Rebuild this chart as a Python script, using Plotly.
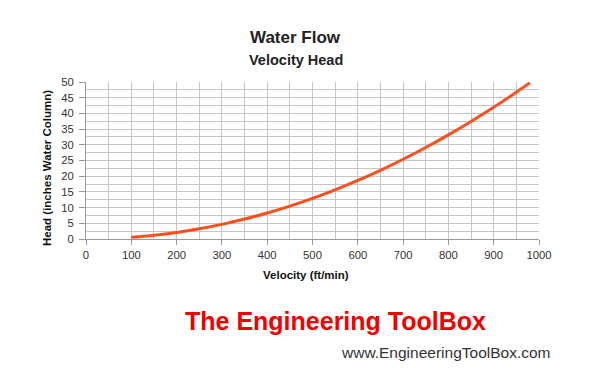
import plotly.graph_objects as go

# Data
velocity_ft_min = [100, 150, 200, 250, 300, 350, 400, 450, 500, 550, 600, 650, 700, 750, 800, 850, 900, 950, 980]
head_in_wc = [0.52, 1.17, 2.07, 3.24, 4.66, 6.35, 8.29, 10.49, 12.95, 15.67, 18.65, 21.89, 25.39, 29.14, 33.16, 37.43, 41.96, 46.76, 49.75]

title_text = "Water Flow"
subtitle_text = "Velocity Head"
x_title = "Velocity (ft/min)"
y_title = "Head (inches Water Column)"

FONT = "Liberation Sans, Arial, sans-serif"
GRID = "#c6c6c6"

fig = go.Figure()
fig.add_trace(go.Scatter(
    x=velocity_ft_min, y=head_in_wc, mode="lines",
    line=dict(color="#ff4f1f", width=3, shape="spline"),
    hoverinfo="x+y", showlegend=False,
))

# page body has an 8px margin, so the figure is 8px smaller and offset
OFF = 8
W, H = 606 - OFF, 382 - OFF
L, R, T, B = 78, 67, 74, 143

fig.update_layout(
    width=W, height=H,
    margin=dict(l=L, r=R, t=T, b=B, pad=0),
    paper_bgcolor="white", plot_bgcolor="white",
    font=dict(family=FONT, size=11, color="#333333"),
    xaxis=dict(
        range=[0, 1000], dtick=100, tick0=0,
        showgrid=True, gridcolor=GRID, gridwidth=1,
        minor=dict(dtick=50, showgrid=True, gridcolor=GRID, gridwidth=1),
        ticks="outside", ticklen=5, tickcolor="#999999",
        showline=True, linecolor="#999999", linewidth=1, mirror=False,
        zeroline=False,
        tickfont=dict(size=11.3, color="#333333"),
        fixedrange=True,
    ),
    yaxis=dict(
        range=[0, 50], dtick=5, tick0=0,
        showgrid=True, gridcolor=GRID, gridwidth=1,
        minor=dict(dtick=2.5, showgrid=True, gridcolor=GRID, gridwidth=1),
        ticks="outside", ticklen=6, tickcolor="#999999",
        ticklabelstandoff=3,
        showline=True, linecolor="#999999", linewidth=1,
        zeroline=False,
        tickfont=dict(size=11.3, color="#333333"),
        fixedrange=True,
    ),
    annotations=[
        dict(text="<b>%s</b>" % title_text, x=295, y=37, showarrow=False,
             font=dict(size=17, color="#222222", family=FONT),
             xanchor="center", yanchor="middle"),
        dict(text="<b>%s</b>" % subtitle_text, x=296, y=60, showarrow=False,
             font=dict(size=14.5, color="#222222", family=FONT),
             xanchor="center", yanchor="middle"),
        dict(text="<b>%s</b>" % x_title, x=306, y=275, showarrow=False,
             font=dict(size=11.5, color="#111111", family=FONT),
             xanchor="center", yanchor="middle"),
        dict(text="<b>%s</b>" % y_title, x=47, y=168, showarrow=False, textangle=-90,
             font=dict(size=11.5, color="#111111", family=FONT),
             xanchor="center", yanchor="middle"),
        dict(text="<b>The Engineering ToolBox</b>", x=183, y=321, showarrow=False,
             font=dict(size=25, color="#f00000", family=FONT),
             xanchor="left", yanchor="middle"),
        dict(text="www.EngineeringToolBox.com", x=553, y=352, showarrow=False,
             font=dict(size=15.5, color="#333333", family=FONT),
             xanchor="right", yanchor="middle"),
    ],
)

# convert screen-pixel annotation positions to paper fractions
pw, ph = W - L - R, H - T - B
for a in fig.layout.annotations:
    a.xref = "paper"
    a.yref = "paper"
    a.x = (a.x - OFF - L) / pw
    a.y = ((H - (a.y - OFF)) - B) / ph

fig.write_html("out.html")
